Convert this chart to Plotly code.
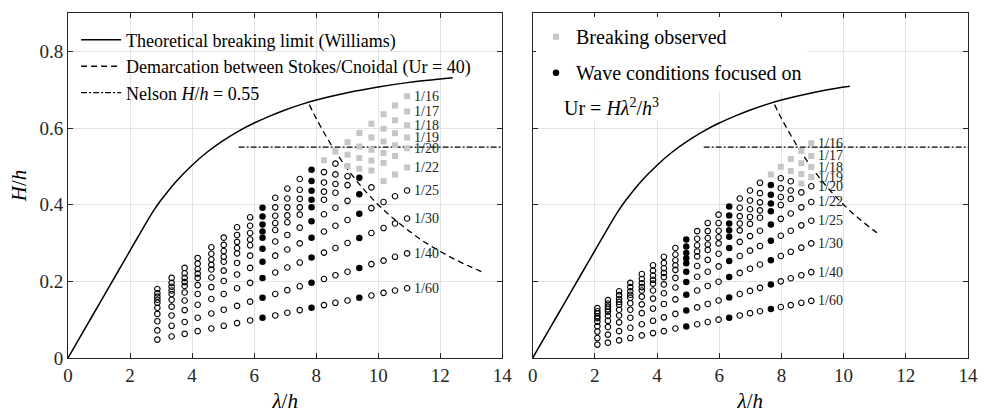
import plotly.graph_objects as go

# ---------------- data ----------------
STEEPNESS = ["1/16", "1/17", "1/18", "1/19", "1/20", "1/22", "1/25", "1/30", "1/40", "1/60"]

# left panel: lambda/h of each column and H/h of each point (rows follow STEEPNESS)
LAM_L = [2.88, 3.34, 3.76, 4.18, 4.62, 5.02, 5.45, 5.87, 6.27, 6.68, 7.07,
         7.47, 7.85, 8.25, 8.62, 9.01, 9.39, 9.78, 10.17, 10.54, 10.93]
HH_L = [
    [.180, .169, .160, .152, .144, .131, .115, .096, .072, .048],
    [.209, .196, .186, .176, .167, .152, .134, .111, .084, .056],
    [.235, .221, .209, .198, .188, .171, .150, .125, .094, .063],
    [.261, .246, .232, .220, .209, .190, .167, .139, .105, .070],
    [.289, .272, .257, .243, .231, .210, .185, .154, .116, .077],
    [.314, .295, .279, .264, .251, .228, .201, .167, .126, .084],
    [.341, .321, .303, .287, .273, .248, .218, .182, .136, .091],
    [.367, .345, .326, .309, .294, .267, .235, .196, .147, .098],
    [.392, .369, .348, .330, .314, .285, .251, .209, .157, .105],
    [.418, .393, .371, .352, .334, .304, .267, .223, .167, .111],
    [.442, .416, .393, .372, .354, .321, .283, .236, .177, .118],
    [.467, .439, .415, .393, .374, .340, .299, .249, .187, .125],
    [.491, .462, .436, .413, .393, .357, .314, .262, .196, .131],
    [.516, .485, .458, .434, .413, .375, .330, .275, .206, .138],
    [.539, .507, .479, .454, .431, .392, .345, .287, .216, .144],
    [.563, .530, .501, .474, .451, .410, .360, .300, .225, .150],
    [.587, .552, .522, .494, .470, .427, .376, .313, .235, .157],
    [.611, .575, .543, .515, .489, .445, .391, .326, .245, .163],
    [.636, .598, .565, .535, .509, .462, .407, .339, .254, .170],
    [.659, .620, .586, .555, .527, .479, .422, .351, .264, .176],
    [.683, .643, .607, .575, .547, .497, .437, .364, .273, .182],
]
BROKEN_L = [0, 0, 0, 0, 0, 0, 0, 0, 0, 0, 0, 0, 0, 1, 1, 3, 4, 5, 6, 6, 6]
FOCUS_L = [8, 12, 16]

# right panel
LAM_R = [2.08, 2.42, 2.78, 3.14, 3.51, 3.87, 4.22, 4.59, 4.94, 5.29, 5.63,
         5.98, 6.32, 6.66, 6.99, 7.31, 7.66, 7.98, 8.30, 8.64, 8.96]
HH_R = [
    [.130, .122, .116, .109, .104, .095, .083, .069, .052, .035],
    [.151, .142, .134, .127, .121, .110, .097, .081, .061, .040],
    [.174, .164, .154, .146, .139, .126, .111, .093, .070, .046],
    [.196, .185, .174, .165, .157, .143, .126, .105, .079, .052],
    [.219, .206, .195, .185, .176, .160, .140, .117, .088, .059],
    [.242, .228, .215, .204, .194, .176, .155, .129, .097, .065],
    [.264, .248, .234, .222, .211, .192, .169, .141, .106, .070],
    [.287, .270, .255, .242, .230, .209, .184, .153, .115, .077],
    [.309, .291, .274, .260, .247, .225, .198, .165, .124, .082],
    [.331, .311, .294, .278, .265, .240, .212, .176, .132, .088],
    [.352, .331, .313, .296, .282, .256, .225, .188, .141, .094],
    [.374, .352, .332, .315, .299, .272, .239, .199, .150, .100],
    [.395, .372, .351, .333, .316, .287, .253, .211, .158, .105],
    [.416, .392, .370, .351, .333, .303, .266, .222, .167, .111],
    [.437, .411, .388, .368, .350, .318, .280, .233, .175, .117],
    [.457, .430, .406, .385, .366, .332, .292, .244, .183, .122],
    [.479, .451, .426, .403, .383, .348, .306, .255, .192, .128],
    [.499, .469, .443, .420, .399, .363, .319, .266, .200, .133],
    [.519, .488, .461, .437, .415, .377, .332, .277, .208, .138],
    [.540, .508, .480, .455, .432, .393, .346, .288, .216, .144],
    [.560, .527, .498, .472, .448, .407, .358, .299, .224, .149],
]
BROKEN_R = [0, 0, 0, 0, 0, 0, 0, 0, 0, 0, 0, 0, 0, 0, 0, 0, 1, 1, 2, 4, 4]
FOCUS_R = [8, 12, 16]

# theoretical breaking limit (Williams)
WILL_X = [0, 0.5, 1.0, 1.5, 2.0, 2.25, 2.5, 2.75, 3.0, 3.5, 4.0, 4.5, 5.0, 5.5,
          6.0, 6.5, 7.0, 7.5, 8.0, 9.0, 10.0, 11.0, 12.4]
WILL_Y = [0, 0.07, 0.14, 0.21, 0.28, 0.315, 0.35, 0.383, 0.412, 0.462, 0.503,
          0.538, 0.567, 0.592, 0.613, 0.631, 0.647, 0.661, 0.673, 0.692, 0.707,
          0.719, 0.731]
WILL_R_X = [0, 0.5, 1.0, 1.5, 2.0, 2.25, 2.5, 2.75, 3.0, 3.5, 4.0, 4.5, 5.0, 5.5,
            6.0, 6.5, 7.0, 7.5, 8.0, 9.0, 10.0, 10.2]
WILL_R_Y = [0, 0.07, 0.14, 0.21, 0.28, 0.315, 0.35, 0.383, 0.412, 0.462, 0.503,
            0.538, 0.567, 0.592, 0.613, 0.631, 0.647, 0.661, 0.673, 0.692, 0.707,
            0.709]

# Stokes / cnoidal demarcation (Ur = 40)
UR_L_X = [7.78, 8.0, 8.5, 9.0, 9.5, 10.0, 10.5, 11.0, 11.5, 12.0, 12.5, 13.0, 13.41]
UR_L_Y = [.661, .625, .554, .494, .443, .400, .363, .331, .302, .278, .256, .237, .222]
UR_R_X = [7.78, 8.0, 8.5, 9.0, 9.5, 10.0, 10.5, 11.0, 11.15]
UR_R_Y = [.661, .625, .554, .494, .443, .400, .363, .331, .322]

# Nelson limit
NELSON_X = [5.5, 14.0]
NELSON_Y = [0.55, 0.55]

# ---------------- style ----------------
FONT = "Liberation Serif, Times New Roman, DejaVu Serif, serif"
GRAY = "#c6c6c6"
AX = "#262626"

fig = go.Figure()


def split_points(lam, hh, broken, focus):
    opn, blk, gry = ([], []), ([], []), ([], [])
    for i, x in enumerate(lam):
        for j, y in enumerate(hh[i]):
            if j < broken[i]:
                tgt = gry
            elif i in focus:
                tgt = blk
            else:
                tgt = opn
            tgt[0].append(x)
            tgt[1].append(y)
    return opn, blk, gry


for panel, (lam, hh, broken, focus) in enumerate(
        [(LAM_L, HH_L, BROKEN_L, FOCUS_L), (LAM_R, HH_R, BROKEN_R, FOCUS_R)]):
    xa = "x" if panel == 0 else "x2"
    ya = "y" if panel == 0 else "y2"
    opn, blk, gry = split_points(lam, hh, broken, focus)
    if panel == 0:
        wx, wy, ux, uy = WILL_X, WILL_Y, UR_L_X, UR_L_Y
    else:
        wx, wy, ux, uy = WILL_R_X, WILL_R_Y, UR_R_X, UR_R_Y
    show = panel == 0
    fig.add_trace(go.Scatter(x=wx, y=wy, mode="lines", xaxis=xa, yaxis=ya,
                             line=dict(color="black", width=1.5, shape="spline", smoothing=0.8),
                             name="Theoretical breaking limit (Williams)",
                             showlegend=show, legend="legend"))
    fig.add_trace(go.Scatter(x=ux, y=uy, mode="lines", xaxis=xa, yaxis=ya,
                             line=dict(color="black", width=1.3, dash="6px,4px", shape="spline"),
                             name="Demarcation between Stokes/Cnoidal (Ur = 40)",
                             showlegend=show, legend="legend"))
    fig.add_trace(go.Scatter(x=NELSON_X, y=NELSON_Y, mode="lines", xaxis=xa, yaxis=ya,
                             line=dict(color="black", width=1.3, dash="6px,2px,2px,2px"),
                             name="Nelson <i>H</i>/<i>h</i> = 0.55",
                             showlegend=show, legend="legend"))
    fig.add_trace(go.Scatter(x=opn[0], y=opn[1], mode="markers", xaxis=xa, yaxis=ya,
                             marker=dict(symbol="circle-open", size=5.5, color="black",
                                         line=dict(width=1.1, color="black")),
                             showlegend=False, hoverinfo="x+y"))
    fig.add_trace(go.Scatter(x=gry[0], y=gry[1], mode="markers", xaxis=xa, yaxis=ya,
                             marker=dict(symbol="square", size=6, color=GRAY),
                             name="Breaking observed", legend="legend2", legendgroup="g1",
                             showlegend=not show))
    fig.add_trace(go.Scatter(x=blk[0], y=blk[1], mode="markers", xaxis=xa, yaxis=ya,
                             marker=dict(symbol="circle", size=6.5, color="black"),
                             name="Wave conditions focused on", legend="legend2", legendgroup="g2",
                             showlegend=not show))
    # steepness labels next to the last column
    for j, lab in enumerate(STEEPNESS):
        fig.add_annotation(x=lam[-1], y=hh[-1][j], xref=xa, yref=ya, text=lab,
                           showarrow=False, xanchor="left", yanchor="middle", xshift=5,
                           font=dict(family=FONT, size=14, color="#222"))

fig.add_annotation(x=0.95, y=0.655, xref="x2", yref="y2",
                   text="Ur = <i>H</i><i>λ</i><sup>2</sup>/<i>h</i><sup>3</sup>",
                   showarrow=False, xanchor="left", yanchor="middle",
                   bgcolor="white", font=dict(family=FONT, size=20, color="black"))

axis_common = dict(range=[0, 14], dtick=2, tick0=0, showgrid=True, gridcolor="#e3e3e3",
                   gridwidth=1, zeroline=False, showline=True, linecolor=AX, linewidth=1,
                   mirror="ticks", ticks="inside", ticklen=5, tickcolor=AX,
                   tickfont=dict(family=FONT, size=19, color="#262626"))
yaxis_common = dict(range=[0, 0.9], showgrid=True, gridcolor="#e3e3e3",
                    gridwidth=1, zeroline=False, showline=True, linecolor=AX, linewidth=1,
                    mirror="ticks", ticks="inside", ticklen=5, tickcolor=AX,
                    tickvals=[0, 0.2, 0.4, 0.6, 0.8],
                    tickfont=dict(family=FONT, size=19, color="#262626"))

fig.update_layout(
    width=990, height=420,
    margin=dict(l=68, r=13, t=12, b=54),
    paper_bgcolor="white", plot_bgcolor="white",
    font=dict(family=FONT, color="black"),
    xaxis=dict(axis_common, domain=[0, 0.4826],
               title=dict(text="<i>λ</i>/<i>h</i>", font=dict(family=FONT, size=21), standoff=8)),
    xaxis2=dict(axis_common, domain=[0.5163, 1.0], anchor="y2",
                title=dict(text="<i>λ</i>/<i>h</i>", font=dict(family=FONT, size=21), standoff=8)),
    yaxis=dict(yaxis_common, ticktext=["0", "0.2", "0.4", "0.6", "0.8"],
               title=dict(text="<i>H</i>/<i>h</i>", font=dict(family=FONT, size=21), standoff=7)),
    yaxis2=dict(yaxis_common, anchor="x2", showticklabels=False),
    legend=dict(x=0.009, y=0.975, xanchor="left", yanchor="top", bgcolor="rgba(255,255,255,0)",
                borderwidth=0, font=dict(family=FONT, size=18, color="black"),
                itemwidth=40, tracegroupgap=0),
    legend2=dict(x=0.52, y=0.988, xanchor="left", yanchor="top", bgcolor="white",
                 borderwidth=0, font=dict(family=FONT, size=20, color="black"),
                 tracegroupgap=7),
    showlegend=True,
)

fig.write_html("out.html")
